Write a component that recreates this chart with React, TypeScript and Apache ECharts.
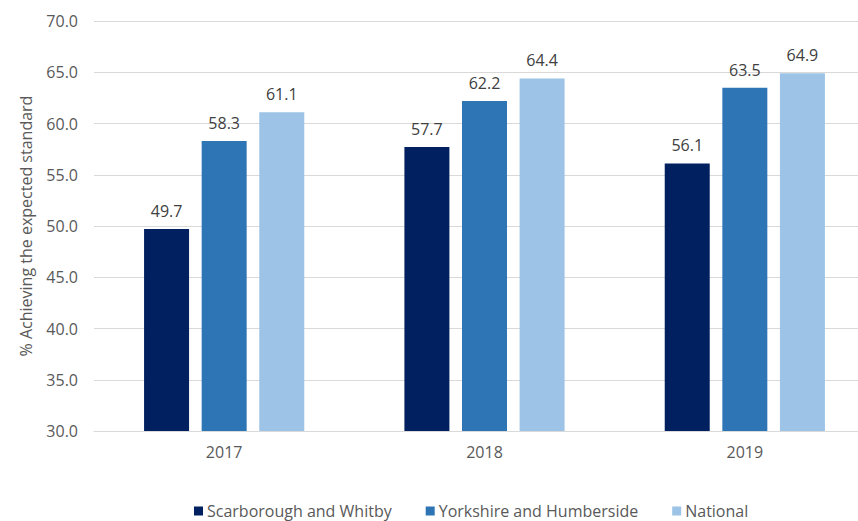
import React, { useEffect, useRef } from "react";
import * as echarts from "echarts";

const categories = ["2017", "2018", "2019"];
const seriesNames = ["Scarborough and Whitby", "Yorkshire and Humberside", "National"];
const scarborough = [49.7, 57.7, 56.1];
const yorkshire = [58.3, 62.2, 63.5];
const national = [61.1, 64.4, 64.9];
const colors = ["#002060", "#2E75B6", "#9DC3E6"];
const yAxisName = "% Achieving the expected standard";

const FONT = "'Open Sans', 'Noto Sans', sans-serif";

export default function App() {
  const ref = useRef<HTMLDivElement>(null);
  useEffect(() => {
    if (!ref.current) return;
    const chart = echarts.init(ref.current, undefined, { renderer: "svg" });
    const values = [scarborough, yorkshire, national];
    chart.setOption({
      animation: false,
      textStyle: { fontFamily: FONT },
      grid: { left: 94, top: 21, width: 781, height: 410 },
      legend: {
        left: 189,
        top: 498,
        itemWidth: 9,
        itemHeight: 9,
        itemGap: 34,
        icon: "rect",
        textStyle: { fontFamily: FONT, fontSize: 16, color: "#595959", padding: [0, 0, 0, -1] },
        data: seriesNames,
      },
      xAxis: {
        type: "category",
        data: categories,
        axisLine: { lineStyle: { color: "#d9d9d9", width: 1 } },
        axisTick: { show: false },
        axisLabel: { fontFamily: FONT, fontSize: 16, color: "#595959", margin: 13 },
      },
      yAxis: {
        type: "value",
        min: 30,
        max: 70,
        interval: 5,
        name: yAxisName,
        nameLocation: "middle",
        nameGap: 60,
        nameTextStyle: { fontFamily: FONT, fontSize: 16, color: "#595959" },
        axisLine: { show: false },
        axisTick: { show: false },
        axisLabel: {
          fontFamily: FONT,
          fontSize: 16,
          color: "#595959",
          margin: 16,
          formatter: (v: number) => v.toFixed(1),
        },
        splitLine: { lineStyle: { color: "#d9d9d9", width: 1 } },
      },
      series: seriesNames.map((name, i) => ({
        name,
        type: "bar",
        data: values[i],
        barWidth: 45,
        barGap: "28%",
        itemStyle: { color: colors[i] },
        label: {
          show: true,
          position: "top",
          distance: 10,
          fontFamily: FONT,
          fontSize: 16,
          color: "#404040",
          formatter: (p: any) => Number(p.value).toFixed(1),
        },
      })),
    });
    return () => chart.dispose();
  }, []);
  return (
    <div
      style={{
        position: "fixed",
        left: 0,
        top: 0,
        width: 858,
        height: 521,
        overflow: "hidden",
        background: "#fff",
      }}
    >
      <div ref={ref} style={{ width: 876, height: 521 }} />
    </div>
  );
}
